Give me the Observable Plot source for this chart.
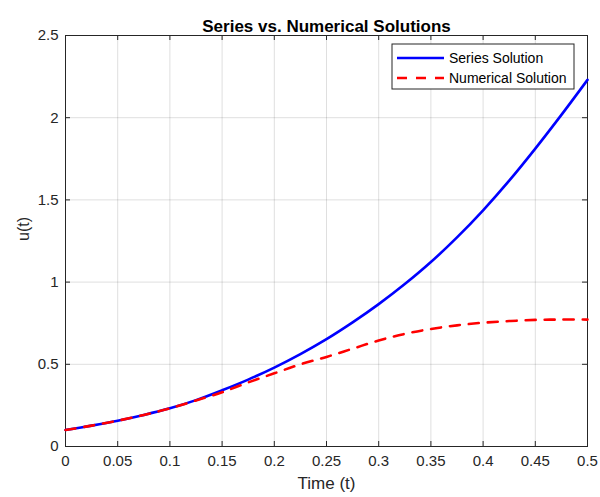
<!DOCTYPE html>
<html>
<head>
<meta charset="utf-8">
<script src="https://cdn.jsdelivr.net/npm/d3@7"></script>
<script src="https://cdn.jsdelivr.net/npm/@observablehq/plot@0.6"></script>
<style>
  html, body { margin: 0; padding: 0; background: white; }
</style>
</head>
<body>
<div id="chart"></div>
<script>
// ---- Data ----
const seriesT = [0, 0.025, 0.05, 0.075, 0.1, 0.125, 0.15, 0.175, 0.2, 0.225, 0.25, 0.275, 0.3, 0.325, 0.35, 0.375, 0.4, 0.425, 0.45, 0.475, 0.5];
const seriesU = [0.1, 0.127, 0.157, 0.192, 0.232, 0.282, 0.342, 0.407, 0.48, 0.562, 0.653, 0.755, 0.866, 0.988, 1.122, 1.272, 1.437, 1.617, 1.812, 2.017, 2.23];
const numT = [0, 0.025, 0.05, 0.075, 0.1, 0.125, 0.15, 0.175, 0.2, 0.225, 0.25, 0.275, 0.3, 0.325, 0.35, 0.375, 0.4, 0.425, 0.45, 0.475, 0.5];
const numU = [0.1, 0.127, 0.157, 0.192, 0.232, 0.28, 0.33, 0.39, 0.445, 0.5, 0.545, 0.595, 0.645, 0.685, 0.715, 0.737, 0.753, 0.763, 0.77, 0.772, 0.772];
const xTicks = [0, 0.05, 0.1, 0.15, 0.2, 0.25, 0.3, 0.35, 0.4, 0.45, 0.5];
const yTicks = [0, 0.5, 1, 1.5, 2, 2.5];
const titleText = "Series vs. Numerical Solutions";
const xLabel = "Time (t)";
const yLabel = "u(t)";
const legendLabels = ["Series Solution", "Numerical Solution"];
const legendColors = ["#0000ff", "#ff0000"];

const series = seriesT.map((t, i) => ({t, u: seriesU[i]}));
const numerical = numT.map((t, i) => ({t, u: numU[i]}));

const W = 600, H = 497, mL = 65, mR = 13, mT = 35, mB = 51;
const innerW = W - mL - mR, innerH = H - mT - mB;
const axisColor = "#262626";
const font = "'Liberation Sans', Arial, Helvetica, sans-serif";

const plot = Plot.plot({
  width: W,
  height: H,
  marginLeft: mL,
  marginRight: mR,
  marginTop: mT,
  marginBottom: mB,
  style: {fontFamily: font, fontSize: "15px", color: axisColor, background: "white"},
  x: {domain: [0, 0.5]},
  y: {domain: [0, 2.5]},
  marks: [
    Plot.gridX(xTicks, {stroke: axisColor, strokeOpacity: 0.15, strokeWidth: 1}),
    Plot.gridY(yTicks, {stroke: axisColor, strokeOpacity: 0.15, strokeWidth: 1}),
    Plot.axisX(xTicks, {tickSize: 0, tickPadding: 9, tickFormat: d => String(d), label: null, fontSize: 15, fill: axisColor}),
    Plot.axisY(yTicks, {tickSize: 0, tickPadding: 7, tickFormat: d => String(d), label: null, fontSize: 15, fill: axisColor}),
    // inward ticks on all four sides (box on)
    Plot.tickX(xTicks, {x: d => d, insetTop: innerH - 5, stroke: axisColor}),
    Plot.tickX(xTicks, {x: d => d, insetBottom: innerH - 5, stroke: axisColor}),
    Plot.tickY(yTicks, {y: d => d, insetRight: innerW - 5, stroke: axisColor}),
    Plot.tickY(yTicks, {y: d => d, insetLeft: innerW - 5, stroke: axisColor}),
    Plot.frame({stroke: axisColor, strokeWidth: 1}),
    Plot.line(series, {x: "t", y: "u", stroke: legendColors[0], strokeWidth: 2.6, curve: "catmull-rom"}),
    Plot.line(numerical, {x: "t", y: "u", stroke: legendColors[1], strokeWidth: 2.6, strokeDasharray: "10,9", curve: "catmull-rom"}),
    Plot.text([titleText], {frameAnchor: "top", dy: -16, fontWeight: "bold", fontSize: 17, fill: "#000"}),
    Plot.text([xLabel], {frameAnchor: "bottom", dy: 42, fontSize: 17, fill: axisColor}),
    Plot.text([yLabel], {frameAnchor: "left", dx: -42, rotate: -90, fontSize: 16, fill: axisColor})
  ]
});

document.getElementById("chart").appendChild(plot);

// ---- Legend (MATLAB style box, upper right) ----
const svg = d3.select(plot);
const lg = svg.append("g").attr("font-family", font).attr("font-size", 14).attr("text-anchor", "start");
const bx = 392, by = 44, bw = 182, bh = 45;
lg.append("rect").attr("x", bx).attr("y", by).attr("width", bw).attr("height", bh)
  .attr("fill", "white").attr("stroke", axisColor).attr("stroke-width", 1);
legendLabels.forEach((lab, i) => {
  const yy = by + 14 + i * 20;
  lg.append("line").attr("x1", bx + 5).attr("x2", bx + 52).attr("y1", yy).attr("y2", yy)
    .attr("stroke", legendColors[i]).attr("stroke-width", 2.6)
    .attr("stroke-dasharray", i === 1 ? "10,9" : null);
  lg.append("text").attr("x", bx + 57).attr("y", yy).attr("dy", "0.35em")
    .attr("text-anchor", "start").attr("fill", "#000").text(lab);
});
</script>
</body>
</html>
